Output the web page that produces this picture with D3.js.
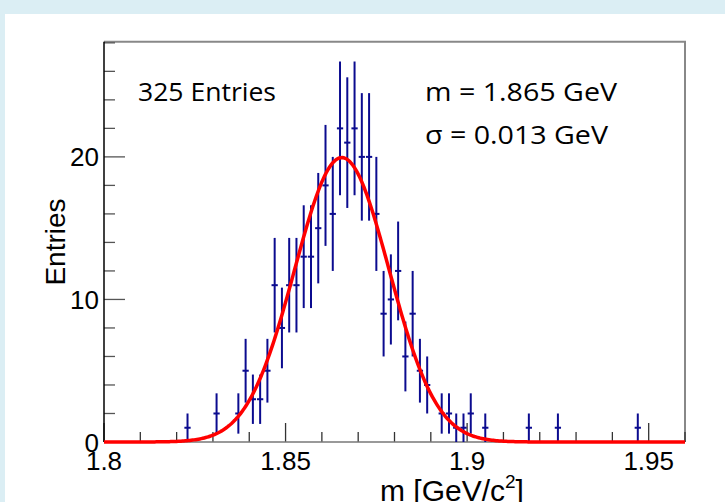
<!DOCTYPE html>
<html>
<head>
<meta charset="utf-8">
<style>
  body { margin: 0; background: #dbeef4; }
  svg { display: block; }
  .tick-label { font-family: "Liberation Sans", Arial, sans-serif; font-size: 26px; fill: #000; }
  .note { font-family: "Open Sans", sans-serif; font-size: 26px; fill: #000; }
</style>
</head>
<body>
<svg id="chart" width="725" height="502"></svg>
<script src="https://cdnjs.cloudflare.com/ajax/libs/d3/7.8.5/d3.min.js"></script>
<script>
  // histogram: 80 bins of 0.002 GeV from 1.8 to 1.96
  var binLow = 1.8
  var binWidth = 0.002
  var counts = [
    0, 0, 0, 0, 0, 0, 0, 0, 0, 0,
    0, 1, 0, 0, 0, 2, 0, 0, 2, 5,
    3, 3, 5, 11, 8, 11, 11, 13, 13, 15,
    18, 16, 22, 21, 22, 20, 20, 16, 9, 10,
    12, 6, 9, 5, 4, 0, 2, 2, 1, 1,
    2, 0, 1, 0, 0, 0, 0, 0, 1, 0,
    0, 0, 1, 0, 0, 0, 0, 0, 0, 0,
    0, 0, 0, 1, 0, 0, 0, 0, 0, 0
  ]
  // gaussian fit
  var fitMean = 1.8655
  var fitSigma = 0.013
  var fitAmp = 19.95
  var xMajor = [1.8, 1.85, 1.9, 1.95]
  var yMajor = [0, 10, 20]
  var xTickLabels = ["1.8", "1.85", "1.9", "1.95"]
  var yTickLabels = ["0", "10", "20"]

  var svg = d3.select("#chart")
  // white slide panel
  svg.append("rect").attr("x", 5).attr("y", 14).attr("width", 720).attr("height", 488).attr("fill", "#fff")

  var x = d3.scaleLinear().domain([1.8, 1.96]).range([104, 685])
  var y = d3.scaleLinear().domain([0, 28.08]).range([442, 41.7])

  var data = counts.map((c, i) => { return {x: binLow + (i + 0.5) * binWidth, n: c} })
    .filter((d) => { return d.n > 0 })

  // frame: top and right in grey
  svg.append("line").attr("x1", x(1.8)).attr("x2", x(1.96) + 1).attr("y1", y(28.08)).attr("y2", y(28.08))
    .attr("stroke", "#888").attr("stroke-width", 2)
  svg.append("line").attr("x1", x(1.96)).attr("x2", x(1.96)).attr("y1", y(28.08)).attr("y2", y(0))
    .attr("stroke", "#888").attr("stroke-width", 2)

  // x ticks (inside, pointing up)
  var xMinor = d3.range(0, 17).map((i) => { return 1.8 + i * 0.01 })
  svg.selectAll(".xminor").data(xMinor).enter().append("line")
    .attr("x1", (d) => x(d)).attr("x2", (d) => x(d))
    .attr("y1", y(0)).attr("y2", (d, i) => y(0) - (i % 5 == 0 ? 19 : 10))
    .attr("stroke", "#333").attr("stroke-width", 1.3)
  // y ticks (inside, pointing right)
  var yMinor = d3.range(0, 15).map((i) => { return i * 2 })
  svg.selectAll(".yminor").data(yMinor).enter().append("line")
    .attr("x1", x(1.8)).attr("x2", (d, i) => x(1.8) + (i % 5 == 0 ? 21 : 11))
    .attr("y1", (d) => y(d)).attr("y2", (d) => y(d))
    .attr("stroke", "#555").attr("stroke-width", 1.3)

  // axis lines
  svg.append("line").attr("x1", x(1.8)).attr("x2", x(1.96)).attr("y1", y(0)).attr("y2", y(0))
    .attr("stroke", "#777").attr("stroke-width", 1.5)
  svg.append("line").attr("x1", x(1.8)).attr("x2", x(1.8)).attr("y1", y(28.08)).attr("y2", y(0))
    .attr("stroke", "#000").attr("stroke-width", 1.5)

  // tick labels
  svg.selectAll(".xlab").data(xMajor).enter().append("text")
    .attr("class", "tick-label")
    .attr("x", (d) => x(d)).attr("y", 470)
    .attr("text-anchor", "middle")
    .text((d, i) => xTickLabels[i])
  svg.selectAll(".ylab").data(yMajor).enter().append("text")
    .attr("class", "tick-label")
    .attr("x", x(1.8) - 5).attr("y", (d) => y(d) + 9.5)
    .attr("text-anchor", "end")
    .text((d, i) => yTickLabels[i])

  // axis titles
  svg.append("text").attr("class", "tick-label")
    .attr("transform", "translate(65,242) rotate(-90)")
    .attr("text-anchor", "middle")
    .style("font-size", "28px")
    .text("Entries")
  var xt = svg.append("text").attr("class", "tick-label").attr("x", 380).attr("y", 501)
    .style("font-size", "30px")
  xt.append("tspan").text("m [GeV/c")
  xt.append("tspan").attr("font-size", "19px").attr("dy", -13).text("2")
  xt.append("tspan").attr("dy", 13).text("]")

  // error bars
  var blue = "#0b0b8f"
  var bw = x(binLow + binWidth) - x(binLow)
  var pts = svg.append("g").attr("stroke", blue).attr("stroke-width", 2)
  pts.selectAll(".ev").data(data).enter().append("line")
    .attr("x1", (d) => x(d.x)).attr("x2", (d) => x(d.x))
    .attr("y1", (d) => y(d.n - Math.sqrt(d.n))).attr("y2", (d) => y(d.n + Math.sqrt(d.n)))
  pts.selectAll(".eh").data(data).enter().append("line")
    .attr("x1", (d) => x(d.x) - bw / 2 + 0.5).attr("x2", (d) => x(d.x) + bw / 2 - 0.5)
    .attr("y1", (d) => y(d.n)).attr("y2", (d) => y(d.n))

  // fit curve
  var curve = d3.range(0, 401).map((i) => {
    var m = 1.8 + i * 0.0004
    return [m, fitAmp * Math.exp(-0.5 * Math.pow((m - fitMean) / fitSigma, 2))]
  })
  svg.append("path").datum(curve)
    .attr("d", d3.line().x((d) => x(d[0])).y((d) => y(d[1])))
    .attr("fill", "none").attr("stroke", "#f00").attr("stroke-width", 3.5)

  // notes
  svg.append("text").attr("class", "note").attr("x", 138).attr("y", 100.5)
    .attr("textLength", 138).attr("lengthAdjust", "spacingAndGlyphs").text("325 Entries")
  svg.append("text").attr("class", "note").attr("x", 425).attr("y", 100.5)
    .attr("textLength", 192).attr("lengthAdjust", "spacingAndGlyphs").text("m = 1.865 GeV")
  svg.append("text").attr("class", "note").attr("x", 425).attr("y", 144)
    .attr("textLength", 183).attr("lengthAdjust", "spacingAndGlyphs").text("σ = 0.013 GeV")
</script>
</body>
</html>
